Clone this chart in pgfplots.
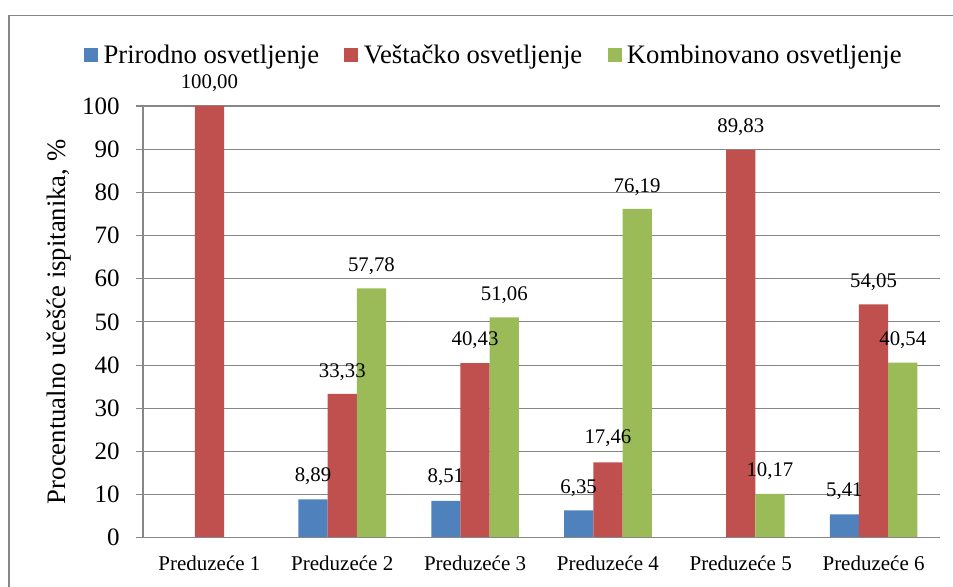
\documentclass[border=0pt]{standalone}
\usepackage{pgfplots}
\pgfplotsset{compat=1.18}
\usepackage{fontspec}
\setmainfont{Liberation Serif}
\definecolor{cblue}{HTML}{4F81BD}
\definecolor{cred}{HTML}{C0504D}
\definecolor{cgreen}{HTML}{9BBB59}
\definecolor{gridgray}{HTML}{878787}
\pgfplotsset{
  mysq/.style={legend image code/.code={\fill[##1] (0pt,-5.25pt) rectangle (10.5pt,5.25pt);}},
}
\begin{document}
\begin{tikzpicture}
\draw[gridgray, line width=0.8pt] (6.75pt,-20pt) -- (6.75pt,427.7pt) -- (740pt,427.7pt);
\begin{axis}[
  at={(107.25pt,36.2pt)}, anchor=south west,
  scale only axis, width=597.75pt, height=323.8pt,
  xmin=-0.5, xmax=5.5, ymin=0, ymax=100,
  clip=false,
  axis line style={draw=none},
  ytick={0,10,...,100},
  xtick={0,...,5},
  xticklabels={Preduzeće 1,Preduzeće 2,Preduzeće 3,Preduzeće 4,Preduzeće 5,Preduzeće 6},
  extra x ticks={-0.5,0.5,...,5.5},
  extra x tick labels={},
  extra x tick style={xtick pos=bottom, major tick length=5.25pt, tick style={gridgray, line width=0.8pt}, grid=none},
  major x tick style={draw=none},
  xtick pos=bottom, ytick pos=left,
  tick align=outside,
  tick style={gridgray, line width=0.8pt},
  major tick length=5.25pt,
  ymajorgrids, grid style={gridgray, line width=0.8pt},
  /pgf/number format/assume math mode=true,
  yticklabel style={font=\rmfamily\fontsize{18.75}{20}\selectfont, anchor=east, inner sep=0pt, xshift=-12pt},
  xticklabel style={font=\rmfamily\fontsize{15.75}{18}\selectfont, anchor=north, inner sep=0pt, yshift=-8pt},
  ylabel={Procentualno učešće ispitanika, \%},
  ylabel style={font=\fontsize{20}{24}\selectfont, at={(rel axis cs:-0.1054,0.5)}, anchor=center},
  legend style={at={(-0.074,1.118)}, anchor=west, draw=none, fill=none,
    font=\fontsize{20}{24}\selectfont, inner sep=0pt, legend columns=-1,
    /tikz/every even column/.append style={column sep=17pt},
    /tikz/every odd column/.append style={column sep=2pt}},
  after end axis/.code={\draw[gridgray, line width=0.8pt] (rel axis cs:0,1) -- (rel axis cs:0,0) -- (rel axis cs:1,0);},
]
\addplot[ybar, bar width=0.22, bar shift=-0.22, fill=cblue, draw=none, mysq]
  coordinates {(1,8.89) (2,8.51) (3,6.35) (5,5.41)};
\addplot[ybar, bar width=0.22, bar shift=0, fill=cred, draw=none, mysq]
  coordinates {(0,100) (1,33.33) (2,40.43) (3,17.46) (4,89.83) (5,54.05)};
\addplot[ybar, bar width=0.22, bar shift=0.22, fill=cgreen, draw=none, mysq]
  coordinates {(1,57.78) (2,51.06) (3,76.19) (4,10.17) (5,40.54)};
\legend{Prirodno osvetljenje,Veštačko osvetljenje,Kombinovano osvetljenje}
\addplot[draw=none, mark=none, forget plot, point meta=explicit symbolic,
  nodes near coords={\pgfplotspointmeta},
  every node near coord/.style={anchor=center, inner sep=0pt, font=\rmfamily\fontsize{15.6}{18}\selectfont}]
  coordinates {
    (0.78,14.3)[8,89] (1.78,14.1)[8,51] (2.78,11.5)[6,35] (4.78,10.8)[5,41]
    (0,105.3)[100,00] (1,38.4)[33,33] (2,45.8)[40,43] (3,23.0)[17,46] (4,95.1)[89,83] (5,59.2)[54,05]
    (1.22,62.9)[57,78] (2.22,56.2)[51,06] (3.22,81.2)[76,19] (4.22,15.5)[10,17] (5.22,45.8)[40,54]
  };
\end{axis}
\pgfresetboundingbox
\path[use as bounding box] (0,0) rectangle (714.75pt,439.5pt);
\end{tikzpicture}
\end{document}
